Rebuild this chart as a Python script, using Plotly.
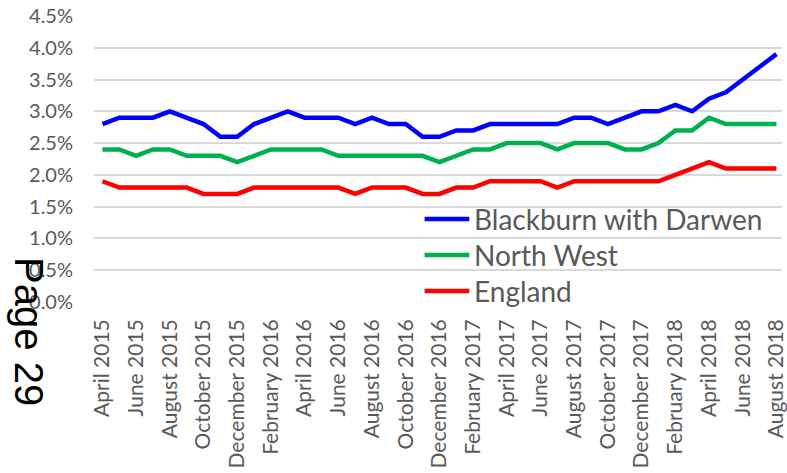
import pandas as pd
import plotly.graph_objects as go

# Monthly rates, April 2015 - August 2018 (percent)
months = pd.date_range("2015-04-01", "2018-08-01", freq="MS").strftime("%B %Y").tolist()

blackburn = [2.8, 2.9, 2.9, 2.9, 3.0, 2.9, 2.8, 2.6, 2.6, 2.8,
             2.9, 3.0, 2.9, 2.9, 2.9, 2.8, 2.9, 2.8, 2.8, 2.6,
             2.6, 2.7, 2.7, 2.8, 2.8, 2.8, 2.8, 2.8, 2.9, 2.9,
             2.8, 2.9, 3.0, 3.0, 3.1, 3.0, 3.2, 3.3, 3.5, 3.7,
             3.9]
north_west = [2.4, 2.4, 2.3, 2.4, 2.4, 2.3, 2.3, 2.3, 2.2, 2.3,
              2.4, 2.4, 2.4, 2.4, 2.3, 2.3, 2.3, 2.3, 2.3, 2.3,
              2.2, 2.3, 2.4, 2.4, 2.5, 2.5, 2.5, 2.4, 2.5, 2.5,
              2.5, 2.4, 2.4, 2.5, 2.7, 2.7, 2.9, 2.8, 2.8, 2.8,
              2.8]
england = [1.9, 1.8, 1.8, 1.8, 1.8, 1.8, 1.7, 1.7, 1.7, 1.8,
           1.8, 1.8, 1.8, 1.8, 1.8, 1.7, 1.8, 1.8, 1.8, 1.7,
           1.7, 1.8, 1.8, 1.9, 1.9, 1.9, 1.9, 1.8, 1.9, 1.9,
           1.9, 1.9, 1.9, 1.9, 2.0, 2.1, 2.2, 2.1, 2.1, 2.1,
           2.1]

series_names = ["Blackburn with Darwen", "North West", "England"]
series_values = [blackburn, north_west, england]
series_colors = ["#0000FF", "#00B050", "#FF0000"]

y_ticks = [0.0, 0.5, 1.0, 1.5, 2.0, 2.5, 3.0, 3.5, 4.0, 4.5]

grey = "#595959"

fig = go.Figure()
for name, values, color in zip(series_names, series_values, series_colors):
    fig.add_trace(go.Scatter(
        x=months, y=values, name=name, mode="lines",
        line=dict(color=color, width=4.5),
        showlegend=False,
    ))

# Key drawn inside the plot area (lower right), with longer swatches
key_x0, key_x1, key_text_x = 0.4805, 0.5455, 0.5495
key_rows = [0.2902, 0.1643, 0.0385]
shapes, annotations = [], []
for name, color, ky in zip(series_names, series_colors, key_rows):
    shapes.append(dict(
        type="line", xref="paper", yref="paper",
        x0=key_x0, x1=key_x1, y0=ky, y1=ky,
        line=dict(color=color, width=4.5),
    ))
    annotations.append(dict(
        text=name, xref="paper", yref="paper",
        x=key_text_x, y=ky, xanchor="left", yanchor="middle",
        showarrow=False,
        font=dict(family="Lato", size=28, color=grey),
    ))

annotations.append(dict(
    text="Page 29", xref="paper", yref="paper",
    x=-0.0956, y=-0.1026, xanchor="center", yanchor="middle",
    textangle=90, showarrow=False,
    font=dict(family="Liberation Sans", size=40, color="black"),
))

fig.update_layout(
    width=787, height=473,
    margin=dict(l=94, r=0, t=16, b=171),
    paper_bgcolor="white", plot_bgcolor="white",
    font=dict(family="Lato", color=grey),
    showlegend=False,
    xaxis=dict(
        type="category",
        range=[-0.5, 40.33],
        tickmode="array",
        tickvals=months[::2],
        ticktext=months[::2],
        tickangle=-90,
        tickfont=dict(family="Lato", size=21, color=grey),
        showgrid=False, ticks="", ticklabelstandoff=12,
        showline=False, zeroline=False,
    ),
    yaxis=dict(
        range=[0, 4.5],
        tickmode="array",
        tickvals=y_ticks,
        ticktext=[f"{v:.1f}%" for v in y_ticks],
        tickfont=dict(family="Lato", size=20, color=grey),
        showgrid=True, gridcolor="#D9D9D9", gridwidth=1.5,
        zeroline=False, ticks="", ticklabelstandoff=20,
        showline=False,
    ),
    shapes=shapes,
    annotations=annotations,
)

fig.write_html("out.html")
